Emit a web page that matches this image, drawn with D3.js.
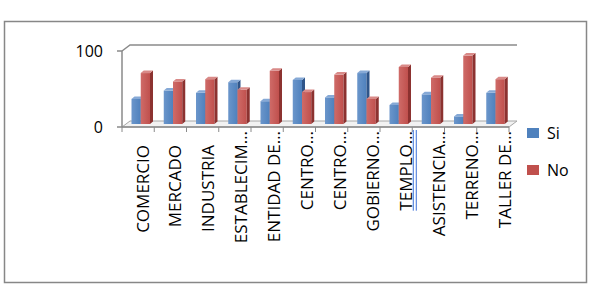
<!DOCTYPE html>
<html>
<head>
<meta charset="utf-8">
<script src="https://cdn.jsdelivr.net/npm/d3@7"></script>
<style>
  body { margin: 0; background: #fff; }
  text { font-family: "Open Sans", "Noto Sans", sans-serif; fill: #000; }
</style>
</head>
<body>
<svg id="chart" width="597" height="293"></svg>
<script>
// data (percent of answers)
var categories = ["COMERCIO", "MERCADO", "INDUSTRIA", "ESTABLECIM\u2026", "ENTIDAD DE\u2026",
  "CENTRO\u2026", "CENTRO\u2026", "GOBIERNO\u2026", "TEMPLO\u2026", "ASISTENCIA\u2026",
  "TERRENO\u2026", "TALLER DE\u2026"];
var siValues = [33, 44, 41, 55, 30, 58, 35, 67, 25, 39, 10, 41];
var noValues = [67, 56, 59, 45, 70, 42, 65, 33, 75, 61, 90, 59];
var seriesNames = ["Si", "No"];
var yTicks = [0, 100];

var colors = {
  Si: { front: "#4f81bd", light: "#6b96cb", side: "#2f5589", top: "#86a9d6" },
  No: { front: "#c0504d", light: "#cf6b68", side: "#8c3230", top: "#d98a88" }
};

var svg = d3.select("#chart");

// outer frame
svg.append("rect").attr("x", 4.5).attr("y", 21.5).attr("width", 582).attr("height", 261)
  .attr("fill", "#fff").attr("stroke", "#878787").attr("stroke-width", 1.5);

var x0 = 122, x1 = 509, yBase = 127, yTop = 51;
var dx = 8, dy = -6; // depth of the 3d box

var x = d3.scaleBand().domain(d3.range(categories.length)).range([x0, x1]);
var xInner = d3.scaleBand().domain(seriesNames).range([5.5, 24]);
var y = d3.scaleLinear().domain([0, 100]).range([yBase, yTop]);

var labelX = d3.scalePoint().domain(d3.range(categories.length)).range([141, 503]);

var axisColor = "#8a8a8a";
var g = svg.append("g");

// floor
g.append("path")
  .attr("d", "M" + x0 + "," + yBase + "L" + (x0 + dx) + "," + (yBase + dy) + "L" + (x1 + dx) + "," + (yBase + dy) + "L" + x1 + "," + yBase + "Z")
  .attr("fill", "#f2f2f2").attr("stroke", "#a6a6a6").attr("stroke-width", 1);

// back wall top and side
g.append("path")
  .attr("d", "M" + x0 + "," + yTop + "L" + (x0 + dx) + "," + (yTop + dy) + "L" + (x1 + dx) + "," + (yTop + dy))
  .attr("fill", "none").attr("stroke", axisColor).attr("stroke-width", 1.5);

// value axis
g.append("line").attr("x1", x0).attr("x2", x0).attr("y1", yTop).attr("y2", yBase)
  .attr("stroke", axisColor).attr("stroke-width", 1.5);
g.selectAll(".ytick").data(yTicks).join("line")
  .attr("x1", x0 - 5).attr("x2", x0).attr("y1", function(d) { return y(d); }).attr("y2", function(d) { return y(d); })
  .attr("stroke", axisColor).attr("stroke-width", 1.5);
g.selectAll(".ylab").data(yTicks).join("text")
  .attr("x", 103).attr("y", function(d) { return y(d) + 6; })
  .attr("text-anchor", "end").attr("font-size", 16)
  .text(function(d) { return d; });

// category axis
g.append("line").attr("x1", x0).attr("x2", x1).attr("y1", yBase).attr("y2", yBase)
  .attr("stroke", axisColor).attr("stroke-width", 1.5);
g.selectAll(".xtick").data(d3.range(categories.length + 1)).join("line")
  .attr("x1", function(i) { return x0 + i * x.step(); })
  .attr("x2", function(i) { return x0 + i * x.step(); })
  .attr("y1", yBase).attr("y2", yBase + 5)
  .attr("stroke", axisColor).attr("stroke-width", 1);

// gradient for bar fronts
var defs = svg.append("defs");
seriesNames.forEach(function(s) {
  var lg = defs.append("linearGradient").attr("id", "grad" + s).attr("x1", 0).attr("x2", 1).attr("y1", 0).attr("y2", 0);
  lg.append("stop").attr("offset", "0%").attr("stop-color", colors[s].light);
  lg.append("stop").attr("offset", "100%").attr("stop-color", colors[s].front);
});

// bars
var bdx = 3, bdy = -2.5; // bar depth
var bars = [];
categories.forEach(function(c, i) {
  bars.push({ i: i, s: "Si", v: siValues[i] });
  bars.push({ i: i, s: "No", v: noValues[i] });
});

var barG = g.selectAll(".bar").data(bars).join("g")
  .attr("transform", function(d) { return "translate(" + (x(d.i) + xInner(d.s) + 4) + ",-3)"; });

barG.each(function(d) {
  var bw = xInner.bandwidth();
  var top = y(d.v), bot = y(0);
  var sel = d3.select(this);
  sel.append("rect").attr("x", 0).attr("y", top).attr("width", bw).attr("height", bot - top)
    .attr("fill", "url(#grad" + d.s + ")");
  sel.append("path")
    .attr("d", "M" + bw + "," + top + "L" + (bw + bdx) + "," + (top + bdy) + "L" + (bw + bdx) + "," + (bot + bdy) + "L" + bw + "," + bot + "Z")
    .attr("fill", colors[d.s].side);
  sel.append("path")
    .attr("d", "M0," + top + "L" + bdx + "," + (top + bdy) + "L" + (bw + bdx) + "," + (top + bdy) + "L" + bw + "," + top + "Z")
    .attr("fill", colors[d.s].top);
});

// category labels, rotated; cut labels end a bit higher (the ellipsis sticks out)
function labelEnd(d) { return d.slice(-1) == "\u2026" ? 131 : 145; }
var labels = g.selectAll(".xlab").data(categories).join("text")
  .attr("transform", function(d, i) { return "translate(" + (labelX(i) + 7.5) + "," + labelEnd(d) + ") rotate(-90)"; })
  .attr("text-anchor", "end").attr("font-size", 17)
  .text(function(d) { return d; });

// blue double underline under TEMPLO label
labels.filter(function(d, i) { return i == 8; }).each(function(d) {
  var len = this.getComputedTextLength();
  var bx = labelX(8) + 7.5, ye = labelEnd(d);
  [1.5, 4.5].forEach(function(off) {
    g.append("line").attr("x1", bx + off).attr("x2", bx + off)
      .attr("y1", ye - 1).attr("y2", ye + len)
      .attr("stroke", "#3b6fd8").attr("stroke-width", 1);
  });
});

// legend
var leg = svg.append("g").attr("transform", "translate(527,128)");
seriesNames.forEach(function(s, k) {
  leg.append("rect").attr("x", 0).attr("y", k * 37).attr("width", 12).attr("height", 10)
    .attr("fill", colors[s].front);
  leg.append("text").attr("x", 20).attr("y", k * 37 + 11).attr("font-size", 16).text(s);
});
</script>
</body>
</html>
